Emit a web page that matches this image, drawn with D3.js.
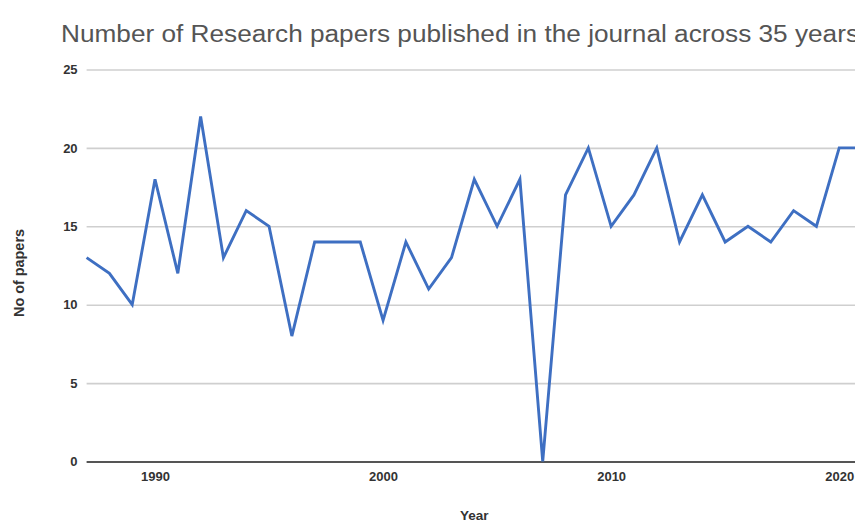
<!DOCTYPE html>
<html>
<head>
<meta charset="utf-8">
<script src="https://cdn.jsdelivr.net/npm/d3@7"></script>
<style>
  html, body { margin: 0; padding: 0; background: #fff; overflow: hidden; }
  svg { display: block; }
  text { font-family: "Liberation Sans", Arial, sans-serif; }
</style>
</head>
<body>
<div id="chart"></div>
<script>
// Papers published per year
const years = [1987, 1988, 1989, 1990, 1991, 1992, 1993, 1994, 1995, 1996,
               1997, 1998, 1999, 2000, 2001, 2002, 2003, 2004, 2005, 2006,
               2007, 2008, 2009, 2010, 2011, 2012, 2013, 2014, 2015, 2016,
               2017, 2018, 2019, 2020, 2021];
const papers = [13, 12, 10, 18, 12, 22, 13, 16, 15, 8,
                14, 14, 14, 9, 14, 11, 13, 18, 15, 18,
                0, 17, 20, 15, 17, 20, 14, 17, 14, 15,
                14, 16, 15, 20, 20];
const xTickValues = [1990, 2000, 2010, 2020];
const yTickValues = [0, 5, 10, 15, 20, 25];

const titleText = "Number of Research papers published in the journal across 35 years";
const xAxisTitle = "Year";
const yAxisTitle = "No of papers";

const width = 900, height = 522;
const margin = { left: 86.6, right: 38, top: 69.5, bottom: 60.5 };

const svg = d3.select("#chart").append("svg")
  .attr("width", width)
  .attr("height", height);

const x = d3.scaleLinear()
  .domain(d3.extent(years))
  .range([margin.left, width - margin.right]);

const y = d3.scaleLinear()
  .domain([0, 25])
  .range([height - margin.bottom, margin.top]);

// Horizontal gridlines with value labels
const yAxis = d3.axisLeft(y)
  .tickValues(yTickValues)
  .tickSize(-(width - margin.left))
  .tickPadding(9);

const gy = svg.append("g")
  .attr("transform", `translate(${margin.left},0)`)
  .call(yAxis);
gy.select(".domain").remove();
gy.selectAll(".tick line")
  .attr("stroke", d => d === 0 ? "#555" : "#cfcfcf")
  .attr("stroke-width", d => d === 0 ? 2 : 1.6);
gy.selectAll(".tick text")
  .attr("fill", "#333")
  .attr("font-size", 13)
  .attr("font-weight", "bold");

// Year labels under the baseline
const xAxis = d3.axisBottom(x)
  .tickValues(xTickValues)
  .tickFormat(d3.format("d"))
  .tickSize(0)
  .tickPadding(10);

const gx = svg.append("g")
  .attr("transform", `translate(0,${y(0)})`)
  .call(xAxis);
gx.select(".domain").remove();
gx.selectAll(".tick text")
  .attr("fill", "#333")
  .attr("font-size", 13)
  .attr("font-weight", "bold");

// Series line
const line = d3.line()
  .x((d, i) => x(years[i]))
  .y(d => y(d));

svg.append("path")
  .datum(papers)
  .attr("fill", "none")
  .attr("stroke", "#3e6fc2")
  .attr("stroke-width", 2.9)
  .attr("stroke-linejoin", "miter")
  .attr("d", line);

// Title, stretched to span the full width
svg.append("text")
  .attr("x", 61)
  .attr("y", 42)
  .attr("font-size", 23)
  .attr("fill", "#555")
  .attr("textLength", 798)
  .attr("lengthAdjust", "spacingAndGlyphs")
  .text(titleText);

// Axis titles
svg.append("text")
  .attr("x", (margin.left + width - margin.right) / 2)
  .attr("y", 520)
  .attr("text-anchor", "middle")
  .attr("font-size", 13.5)
  .attr("font-weight", "bold")
  .attr("fill", "#333")
  .text(xAxisTitle);

svg.append("text")
  .attr("transform", "translate(24,273) rotate(-90)")
  .attr("text-anchor", "middle")
  .attr("font-size", 14)
  .attr("font-weight", "bold")
  .attr("fill", "#333")
  .attr("textLength", 88)
  .attr("lengthAdjust", "spacingAndGlyphs")
  .text(yAxisTitle);
</script>
</body>
</html>
